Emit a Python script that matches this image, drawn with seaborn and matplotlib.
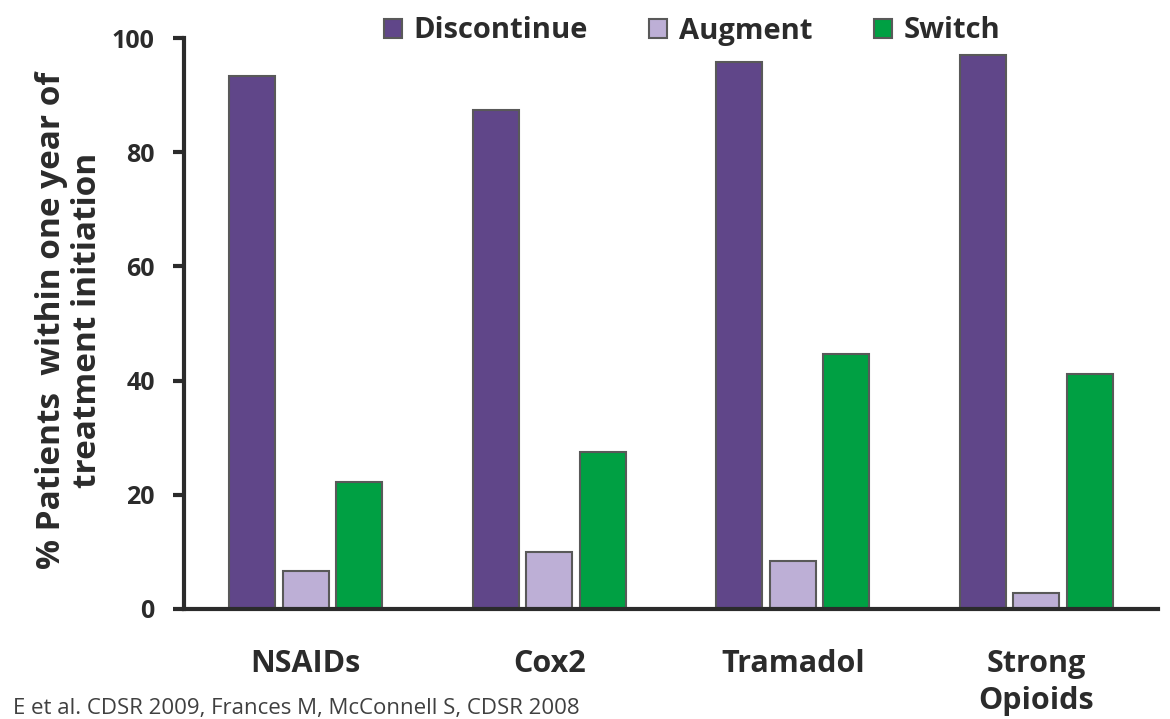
import matplotlib
matplotlib.use("Agg")
import matplotlib.pyplot as plt
import seaborn as sns
import pandas as pd
import numpy as np

categories = ["NSAIDs", "Cox2", "Tramadol", "Strong\nOpioids"]
series = ["Discontinue", "Augment", "Switch"]
discontinue = [93.3, 87.4, 95.8, 97.0]
augment = [6.7, 10.0, 8.4, 2.8]
switch = [22.3, 27.5, 44.6, 41.2]
colors = ["#604689", "#bdafd6", "#00a043"]
yticks = [0, 20, 40, 60, 80, 100]

df = pd.DataFrame({
    "category": categories * 3,
    "series": [s for s in series for _ in categories],
    "value": discontinue + augment + switch,
})

sns.set_theme(style="white")
plt.rcParams["font.family"] = ["Open Sans", "DejaVu Sans"]
txt = "#2b2b2b"

fig = plt.figure(figsize=(11.7, 7.19), dpi=100)
ax = fig.add_axes([184/1170, 1-609/719, (1158-184)/1170, (609-38)/719])

sns.barplot(data=df, x="category", y="value", hue="series", order=categories,
            hue_order=series, palette=colors, saturation=1, width=0.66, gap=0.14,
            edgecolor="#595959", linewidth=1.5, ax=ax, legend=True)

ax.set_xlim(-0.5, 3.5)
ax.set_ylim(0, 100)
ax.set_yticks(yticks)
ax.set_yticklabels([str(t) for t in yticks], fontsize=18, fontweight="bold", color=txt)
ax.set_xticks(range(len(categories)))
ax.set_xticklabels(categories, fontsize=22, fontweight="bold", color=txt, va="top",
                   linespacing=1.3)
ax.tick_params(axis="x", length=0, pad=29)
ax.set_xticks(np.arange(-0.5, 4.0, 1.0), minor=True)
ax.tick_params(axis="x", which="minor", length=9, width=3, color="#2b2b2b", direction="out")
ax.tick_params(axis="y", length=8, width=3, color="#2b2b2b", direction="out", pad=13, left=True)

for s in ["top", "right"]:
    ax.spines[s].set_visible(False)
for s in ["left", "bottom"]:
    ax.spines[s].set_linewidth(3)
    ax.spines[s].set_color("#2b2b2b")

ax.set_xlabel("")
ax.set_ylabel("% Patients  within one year of\ntreatment initiation", fontsize=24,
              fontweight="bold", color=txt, linespacing=1.1)
ax.yaxis.set_label_coords((104-184)/974, 0.505)

handles, labels = ax.get_legend_handles_labels()
ax.get_legend().remove()
leg = fig.legend(handles, labels, loc="center", bbox_to_anchor=(692/1170, 1-31/719),
                 ncol=3, frameon=False, prop={"weight": "bold", "size": 21},
                 handlelength=0.62, handleheight=0.62, handletextpad=0.4, columnspacing=2.1)
for t in leg.get_texts():
    t.set_color(txt)

fig.text(13/1170, 5/719, "E et al. CDSR 2009, Frances M, McConnell S, CDSR 2008",
         fontsize=16, color="#404040", va="baseline", ha="left")

fig.savefig("out.png", dpi=100)
